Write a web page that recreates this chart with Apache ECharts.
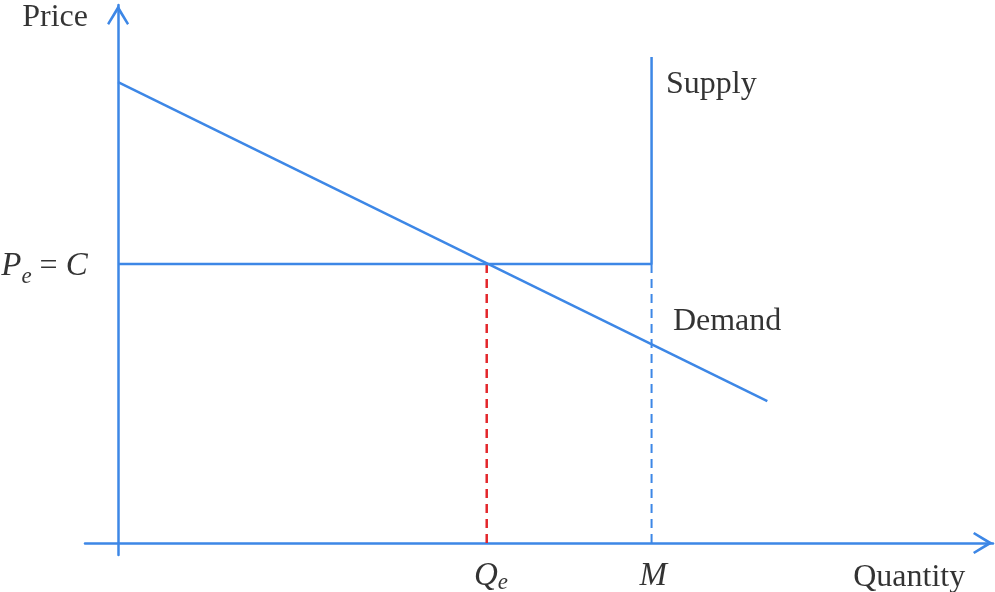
<!DOCTYPE html>
<html>
<head>
<meta charset="utf-8">
<script src="https://cdn.jsdelivr.net/npm/echarts@6/dist/echarts.min.js"></script>
<style>
html,body{margin:0;padding:0;background:#fff;}
#main{width:995px;height:592px;}
</style>
</head>
<body>
<div id="main"></div>
<script>
// market values (quantity, price) in chart units
var pe = 5;          // Pe = C
var qe = 6.91;       // Qe
var qM = 10;         // M
var demandPts = [[0, 8.26], [12.17, 2.54]];
var supplyPts = [[0, pe], [qM, pe], [qM, 8.71]];
var qeDrop = [[qe, pe], [qe, 0]];
var mDrop = [[qM, pe], [qM, 0]];

var blue = '#3d87e6';
var red = '#e3262b';
var serif = '"Liberation Serif", "DejaVu Serif", serif';

// chevron arrow, tip at the symbol's center
var chevron = 'path://M11,-20 L11,-20 Z M11,0 L22,18.6 L20,20 L11,5.6 L2,20 L0,18.6 Z';

var myChart = echarts.init(document.getElementById('main'));

function textPoint(coord, text, align, vAlign, rich) {
	return {
		value: coord,
		label: {
			show: true,
			position: 'inside',
			formatter: text,
			align: align,
			verticalAlign: vAlign,
			color: '#000',
			fontFamily: serif,
			fontSize: 32,
			rich: rich || {}
		}
	};
}

var richSub = {
	i: {fontFamily: serif, fontStyle: 'italic', fontSize: 33, color: '#000'},
	s: {fontFamily: serif, fontStyle: 'italic', fontSize: 23, color: '#000', padding: [20, 0, 0, 0]},
	t: {fontFamily: serif, fontStyle: 'italic', fontSize: 23, color: '#000', padding: [12, 0, 0, 0]},
	n: {fontFamily: serif, fontSize: 32, color: '#000'}
};

var option = {
	animation: false,
	grid: {
		left: 85,
		right: 2,
		top: 5,
		bottom: 37
	},
	xAxis: {
		type: 'value',
		min: -0.62,
		max: 16.4,
		axisLine: {
			show: true,
			onZero: true,
			symbol: ['none', chevron],
			symbolSize: [23, 40],
			lineStyle: {color: blue, width: 2.5}
		},
		axisTick: {show: false},
		axisLabel: {show: false},
		splitLine: {show: false}
	},
	yAxis: {
		type: 'value',
		min: -0.215,
		max: 9.64,
		axisLine: {
			show: true,
			onZero: true,
			symbol: ['none', chevron],
			symbolSize: [23, 40],
			lineStyle: {color: blue, width: 2.5}
		},
		axisTick: {show: false},
		axisLabel: {show: false},
		splitLine: {show: false}
	},
	series: [
		{
			name: 'Demand',
			type: 'line',
			data: demandPts,
			symbol: 'none',
			lineStyle: {color: blue, width: 2.5},
			z: 3
		},
		{
			name: 'Supply',
			type: 'line',
			data: supplyPts,
			symbol: 'none',
			lineStyle: {color: blue, width: 2.5},
			z: 3
		},
		{
			name: 'Qe',
			type: 'line',
			data: qeDrop,
			symbol: 'none',
			lineStyle: {color: red, width: 2.5, type: [9, 6]},
			z: 2
		},
		{
			name: 'M',
			type: 'line',
			data: mDrop,
			symbol: 'none',
			lineStyle: {color: blue, width: 2, type: [9, 6]},
			z: 2
		},
		{
			name: 'labels',
			type: 'scatter',
			symbolSize: 1,
			clip: false,
			itemStyle: {color: 'rgba(0,0,0,0)'},
			silent: true,
			data: [
				textPoint([-1.18, 9.42], 'Price', 'center', 'middle'),
				textPoint([14.83, -0.62], 'Quantity', 'center', 'middle'),
				textPoint([10.27, 8.22], 'Supply', 'left', 'middle'),
				textPoint([10.4, 3.97], 'Demand', 'left', 'middle'),
				textPoint([qe + 0.08, -0.6], '{i|Q}{t|e}', 'center', 'middle', richSub),
				textPoint([qM + 0.03, -0.6], '{i|M}', 'center', 'middle', richSub),
				textPoint([-0.57, pe - 0.05], '{i|P}{s|e}{n| = }{i|C}', 'right', 'middle', richSub)
			]
		}
	]
};

myChart.setOption(option);
</script>
</body>
</html>
